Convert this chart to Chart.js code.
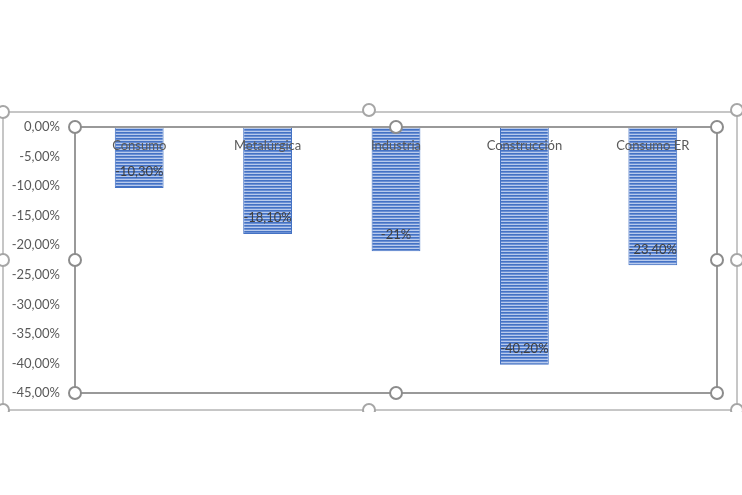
<!DOCTYPE html>
<html>
<head>
<meta charset="utf-8">
<script src="https://cdn.jsdelivr.net/npm/chart.js@4"></script>
<style>
  html, body { margin: 0; padding: 0; background: #fff; }
  #chart { display: block; }
</style>
</head>
<body>
<canvas id="chart" width="742" height="495"></canvas>
<script>
// data
const categories = ["Consumo", "Metalúrgica", "Industria", "Construcción", "Consumo ER"];
const values = [-10.3, -18.1, -21, -40.2, -23.4];
const valueLabels = ["-10,30%", "-18,10%", "-21%", "-40,20%", "-23,40%"];
const yTicks = { min: -45, max: 0, step: 5 };

const FONT = "Lato, 'Open Sans', sans-serif";

// striped fill like the excel pattern
function stripes() {
    const c = document.createElement("canvas");
    c.width = 4; c.height = 3;
    const g = c.getContext("2d");
    g.fillStyle = "#4472c4"; g.fillRect(0, 0, 4, 1);
    g.fillStyle = "#6a8fd4"; g.fillRect(0, 1, 4, 1);
    g.fillStyle = "#b8caec"; g.fillRect(0, 2, 4, 1);
    return document.getElementById("chart").getContext("2d").createPattern(c, "repeat");
}

function handle(ctx, x, y, col) {
    ctx.beginPath();
    ctx.arc(x, y, 6, 0, Math.PI * 2);
    ctx.fillStyle = "#fff";
    ctx.fill();
    ctx.lineWidth = 2;
    ctx.strokeStyle = col;
    ctx.stroke();
}

const decor = {
    id: "decor",
    afterDraw(chart) {
        const ctx = chart.ctx;
        const a = chart.chartArea;
        const xs = chart.scales.x, ys = chart.scales.y;
        ctx.save();

        // labels on the bars
        ctx.textAlign = "center";
        ctx.textBaseline = "middle";
        ctx.font = "13px " + FONT;
        categories.forEach((c, i) => {
            ctx.fillStyle = "#595959";
            ctx.fillText(c, xs.getPixelForValue(i), ys.getPixelForValue(0) + 19);
            ctx.fillStyle = "#404040";
            ctx.fillText(valueLabels[i], xs.getPixelForValue(i), ys.getPixelForValue(values[i]) - 16);
        });

        // outer chart frame (bottom is cut off)
        ctx.save();
        ctx.beginPath();
        ctx.rect(0, 0, chart.width, 412);
        ctx.clip();
        const o = { l: 3, t: 112, r: 737, b: 410 };
        ctx.strokeStyle = "#b4b4b4";
        ctx.lineWidth = 1.5;
        ctx.strokeRect(o.l, o.t, o.r - o.l, o.b - o.t);
        const om = (o.l + o.r) / 2 - 1, ov = (o.t + o.b) / 2 - 1;
        [[o.l, o.t], [om, o.t - 2], [o.r, o.t - 2], [o.l, ov], [o.r, ov], [o.l, o.b], [om, o.b], [o.r, o.b]]
            .forEach(p => handle(ctx, p[0], p[1], "#a6a6a6"));
        ctx.restore();

        // plot area frame
        ctx.strokeStyle = "#999";
        ctx.lineWidth = 2;
        ctx.strokeRect(a.left, a.top, a.right - a.left, a.bottom - a.top);
        const mx = (a.left + a.right) / 2, my = (a.top + a.bottom) / 2;
        [[a.left, a.top], [mx, a.top], [a.right, a.top], [a.left, my], [a.right, my],
         [a.left, a.bottom], [mx, a.bottom], [a.right, a.bottom]]
            .forEach(p => handle(ctx, p[0], p[1], "#8c8c8c"));
        ctx.restore();
    }
};

new Chart(document.getElementById("chart"), {
    type: "bar",
    data: {
        labels: categories,
        datasets: [{
            data: values,
            backgroundColor: stripes(),
            borderColor: "#4472c4",
            borderWidth: 1,
            barPercentage: 0.38,
            categoryPercentage: 1
        }]
    },
    options: {
        responsive: false,
        animation: false,
        layout: { padding: { left: 0, top: 127, right: 25, bottom: 102 } },
        plugins: { legend: { display: false }, tooltip: { enabled: false } },
        scales: {
            x: { display: false },
            y: {
                min: yTicks.min,
                max: yTicks.max,
                border: { display: false },
                grid: { display: false, drawTicks: false },
                afterFit: s => { s.width = 75; },
                ticks: {
                    stepSize: yTicks.step,
                    padding: 15,
                    color: "#595959",
                    font: { family: FONT, size: 13 },
                    callback: v => v.toFixed(2).replace(".", ",") + "%"
                }
            }
        }
    },
    plugins: [decor]
});
</script>
</body>
</html>
